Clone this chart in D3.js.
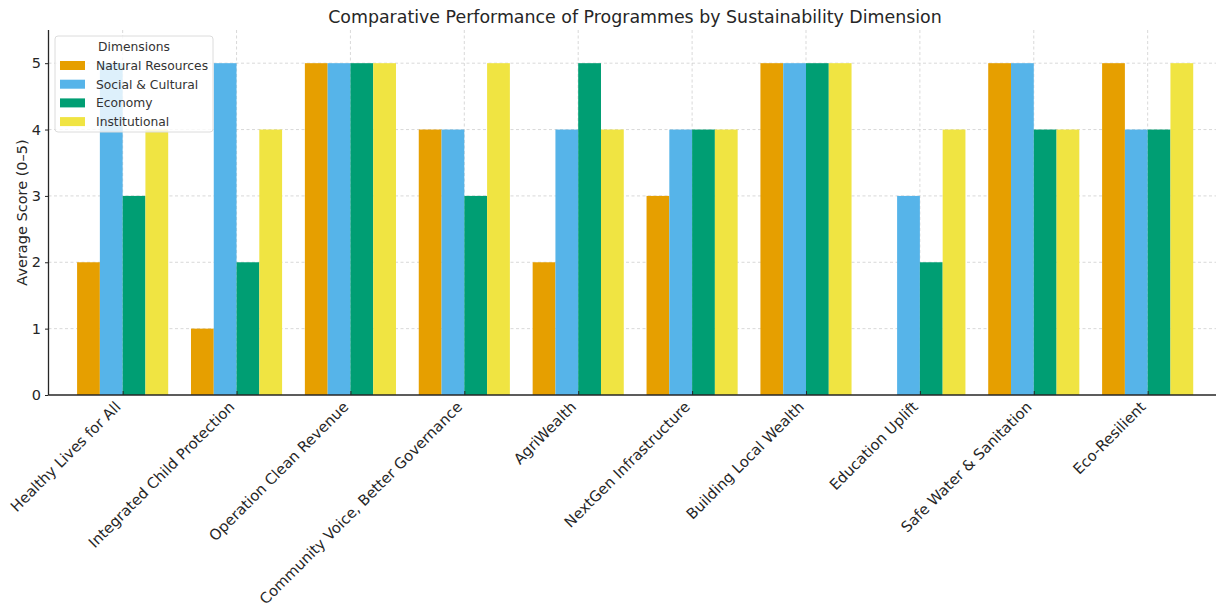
<!DOCTYPE html>
<html>
<head>
<meta charset="utf-8">
<script src="https://cdn.jsdelivr.net/npm/d3@7"></script>
<style>
  html, body { margin: 0; padding: 0; background: #fff; }
  svg { display: block; font-family: "DejaVu Sans", sans-serif; }
</style>
</head>
<body>
<svg id="chart" width="1216" height="607"></svg>
<script>
// Programmes (x categories)
const programmes = [
  "Healthy Lives for All",
  "Integrated Child Protection",
  "Operation Clean Revenue",
  "Community Voice, Better Governance",
  "AgriWealth",
  "NextGen Infrastructure",
  "Building Local Wealth",
  "Education Uplift",
  "Safe Water & Sanitation",
  "Eco-Resilient"
];

// Dimension names and their scores per programme
const dimensions = ["Natural Resources", "Social & Cultural", "Economy", "Institutional"];
const naturalResources = [2, 1, 5, 4, 2, 3, 5, 0, 5, 5];
const socialCultural   = [5, 5, 5, 4, 4, 4, 5, 3, 5, 4];
const economy          = [3, 2, 5, 3, 5, 4, 5, 2, 4, 4];
const institutional    = [4, 4, 5, 5, 4, 4, 5, 4, 4, 5];
const yTicks = [0, 1, 2, 3, 4, 5];
const colors = ["#E69F00", "#56B4E9", "#009E73", "#F0E442"];

const series = [naturalResources, socialCultural, economy, institutional];

const svg = d3.select("#chart");
const plotLeft = 48.5, plotRight = 1216, plotTop = 30, plotBottom = 395;
const barW = 0.2;

const x = d3.scaleLinear().domain([-0.651, 9.6]).range([plotLeft, plotRight]);
const y = d3.scaleLinear().domain([0, 5.5]).range([plotBottom, plotTop]);

// Grid
const grid = svg.append("g");
grid.selectAll("line.h").data(yTicks.filter(d => d > 0)).join("line")
  .attr("x1", plotLeft).attr("x2", plotRight)
  .attr("y1", d => y(d)).attr("y2", d => y(d))
  .attr("stroke", "#cfcfcf").attr("stroke-width", 0.8).attr("stroke-dasharray", "3,2.5");
grid.selectAll("line.v").data(programmes).join("line")
  .attr("x1", (d, i) => x(i)).attr("x2", (d, i) => x(i))
  .attr("y1", plotTop).attr("y2", plotBottom)
  .attr("stroke", "#cfcfcf").attr("stroke-width", 0.8).attr("stroke-dasharray", "3,2.5");

// Bars
series.forEach((vals, s) => {
  svg.append("g").selectAll("rect").data(vals).join("rect")
    .attr("x", (d, i) => x(i + (s - 2) * barW))
    .attr("width", x(barW) - x(0))
    .attr("y", d => y(d))
    .attr("height", d => y(0) - y(d))
    .attr("fill", colors[s]);
});

// Y axis
const yAxis = svg.append("g").attr("transform", `translate(${plotLeft},0)`)
  .call(d3.axisLeft(y).tickValues(yTicks).tickSize(3.5).tickPadding(4).tickFormat(d3.format("d")));
yAxis.select(".domain").attr("stroke", "#262626").attr("stroke-width", 1.3).attr("d", `M0,${plotTop}V${plotBottom}`);
yAxis.selectAll(".tick line").attr("stroke", "#262626").attr("stroke-width", 1);
yAxis.selectAll(".tick text").attr("font-size", 14.5).attr("fill", "#262626")
  .attr("font-family", "DejaVu Sans, sans-serif");

// X axis
const xAxis = svg.append("g").attr("transform", `translate(0,${plotBottom})`)
  .call(d3.axisBottom(x).tickValues(d3.range(programmes.length)).tickSize(-4).tickFormat(""));
xAxis.select(".domain").attr("stroke", "#262626").attr("stroke-width", 1.3).attr("d", `M${plotLeft},0H${plotRight}`);
xAxis.selectAll(".tick line").attr("stroke", "#262626").attr("stroke-width", 1);

svg.append("g").selectAll("text").data(programmes).join("text")
  .attr("transform", (d, i) => `translate(${x(i) - 9},${plotBottom + 5}) rotate(-45)`)
  .attr("text-anchor", "end")
  .attr("dominant-baseline", "hanging")
  .attr("font-size", 14.8)
  .attr("fill", "#262626")
  .text(d => d);

// Axis label
svg.append("text")
  .attr("transform", `translate(27,${(plotTop + plotBottom) / 2}) rotate(-90)`)
  .attr("text-anchor", "middle")
  .attr("font-size", 14.5)
  .attr("fill", "#262626")
  .text("Average Score (0–5)");

// Title
svg.append("text")
  .attr("x", 635).attr("y", 23)
  .attr("text-anchor", "middle")
  .attr("font-size", 17.4)
  .attr("fill", "#262626")
  .text("Comparative Performance of Programmes by Sustainability Dimension");

// Legend
const lg = svg.append("g").attr("transform", "translate(55,36)");
lg.append("rect").attr("width", 158).attr("height", 96).attr("rx", 3)
  .attr("fill", "#fff").attr("fill-opacity", 0.8)
  .attr("stroke", "#dcdcdc").attr("stroke-width", 1);
lg.append("text").attr("x", 79).attr("y", 15).attr("text-anchor", "middle")
  .attr("font-size", 12.3).attr("fill", "#333").text("Dimensions");
dimensions.forEach((name, k) => {
  const yy = 29 + k * 18.7;
  lg.append("rect").attr("x", 5).attr("y", yy - 4).attr("width", 25).attr("height", 9).attr("fill", colors[k]);
  lg.append("text").attr("x", 41).attr("y", yy + 5).attr("font-size", 12.3).attr("fill", "#333").text(name);
});
</script>
</body>
</html>
